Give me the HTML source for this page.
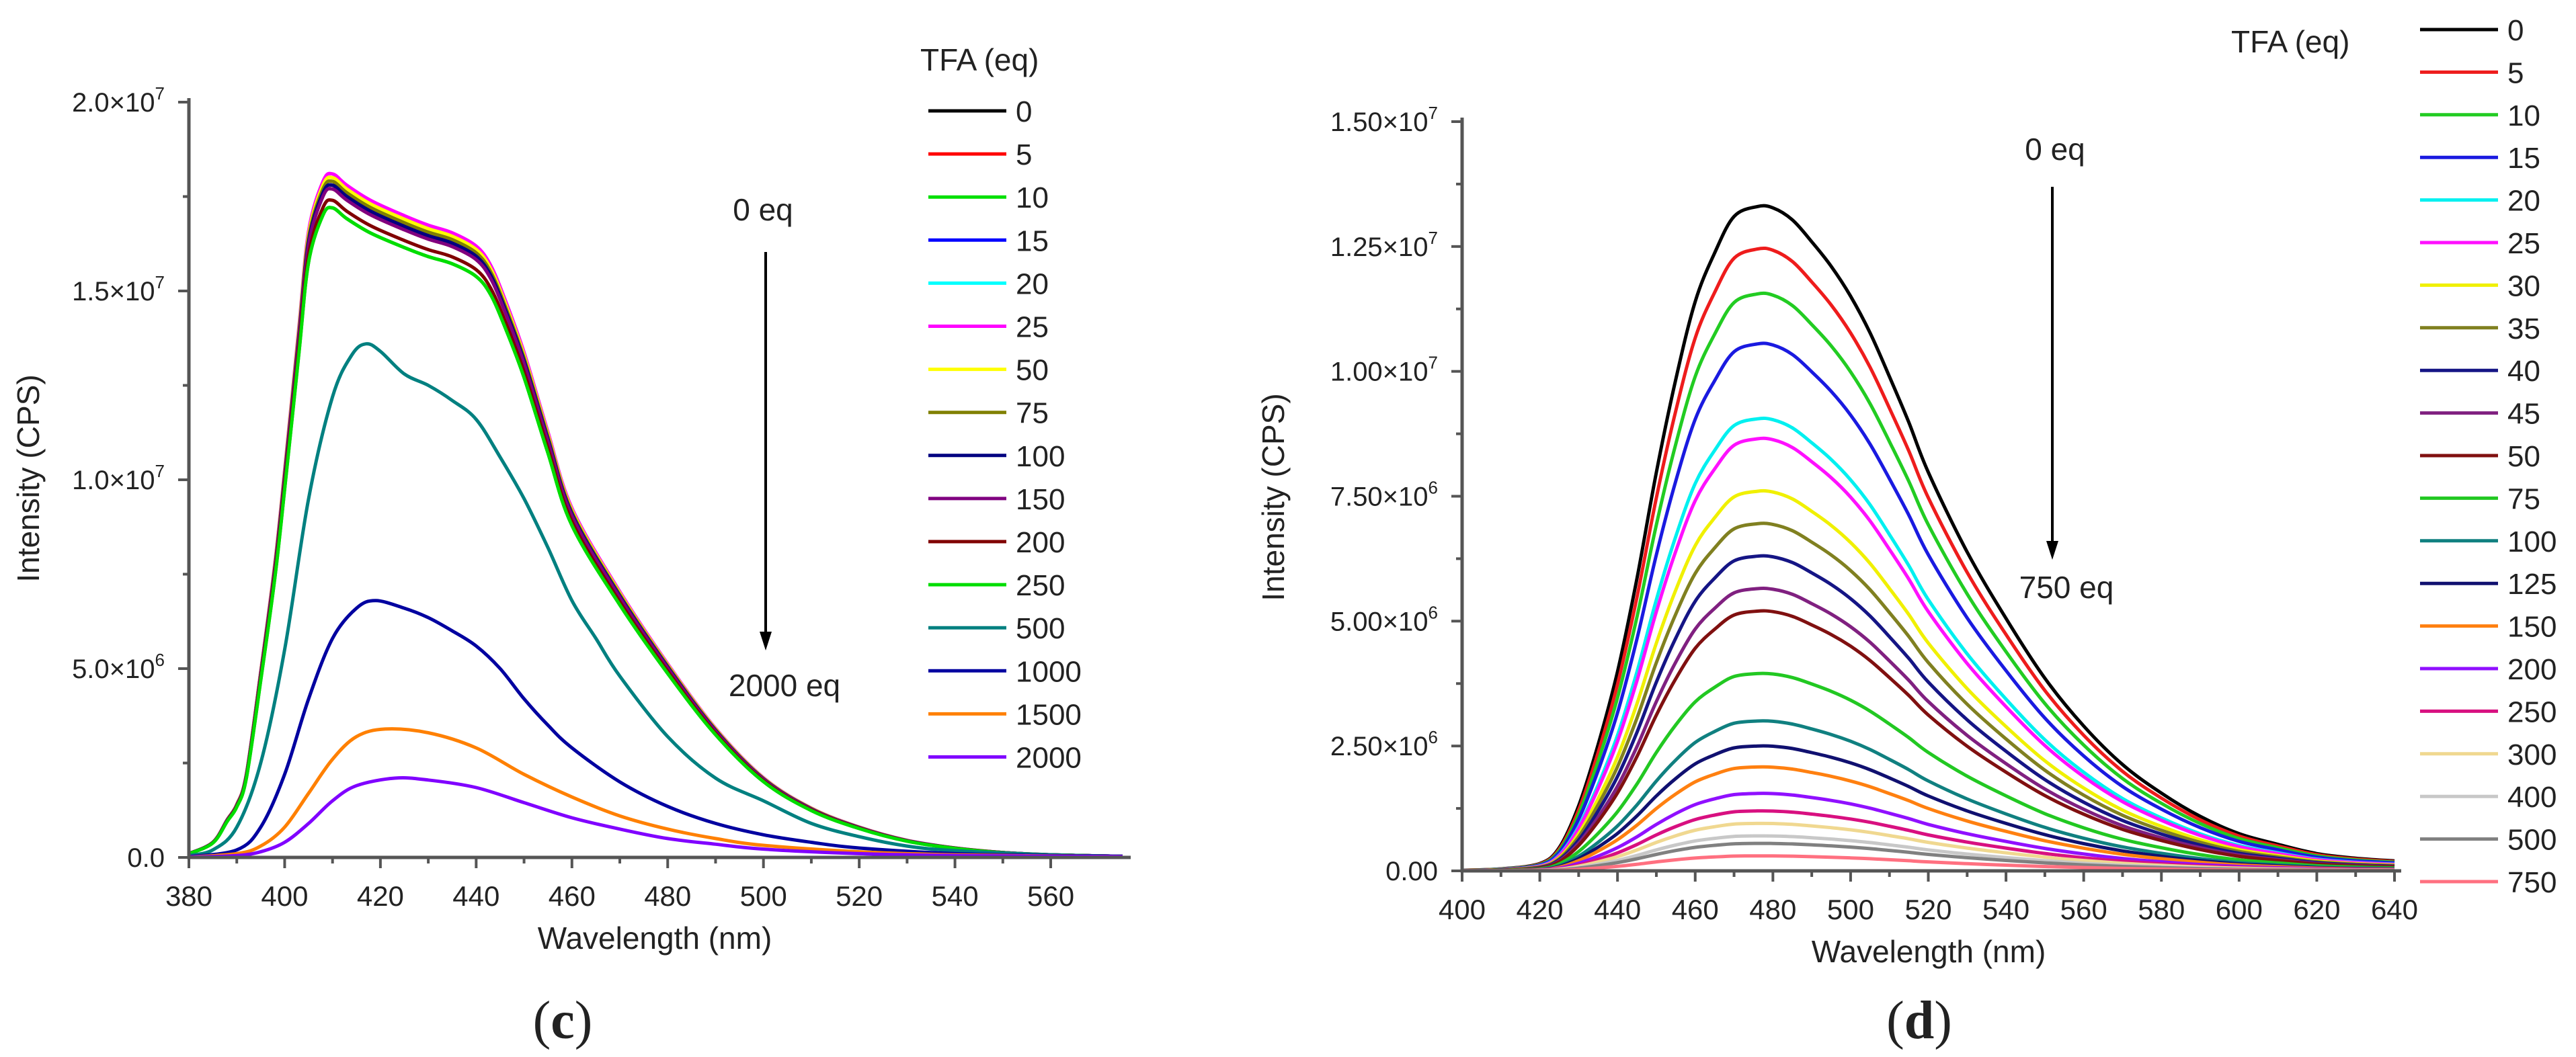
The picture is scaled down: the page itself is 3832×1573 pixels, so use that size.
<!DOCTYPE html>
<html><head><meta charset="utf-8">
<style>
html,body{margin:0;padding:0;background:#fff;}
svg{display:block;}
text{font-family:"Liberation Sans",Arial,sans-serif;fill:#222;}
</style></head>
<body>
<svg id="fig" xmlns="http://www.w3.org/2000/svg" width="3832" height="1573" viewBox="0 0 3832 1573">
<rect width="3832" height="1573" fill="#fff"/>
<g id="panelC"></g>
<g id="panelD"></g>
<text x="837" y="1545" font-size="80" text-anchor="middle" style="font-family:'Liberation Serif',serif">(<tspan font-weight="bold">c</tspan>)</text>
<text x="2855" y="1545" font-size="80" text-anchor="middle" style="font-family:'Liberation Serif',serif">(<tspan font-weight="bold">d</tspan>)</text>
</svg>
<script>
// ---------- Panel (c) data ----------
const cLabels = ["0","5","10","15","20","25","50","75","100","150","200","250","500","1000","1500","2000"];
const cColors = ["#000000","#ff0000","#00e000","#0000ff","#00ffff","#ff00ff","#ffff00","#808000","#000080","#800080","#800000","#00dd00","#008080","#0000a0","#ff8000","#8000ff"];
const cPeaks = [1.78,1.77,1.72,1.80,1.80,1.81,1.80,1.79,1.78,1.77,1.74,1.72];
const cHighX = [380,385,388,390,392,395,398,400,403,405,408,410,413,418,425,430,435,440,443,446,450,455,460,470,480,490,500,510,520,530,540,550,560,575];
const cHighY = [0.01,0.04,0.1,0.14,0.22,0.49,0.78,1.02,1.4,1.65,1.78,1.80,1.77,1.73,1.69,1.665,1.645,1.61,1.56,1.47,1.33,1.12,0.92,0.70,0.51,0.34,0.21,0.13,0.08,0.045,0.025,0.013,0.007,0.003];
const c500X = [380,385,390,395,400,405,410,414,417,420,425,430,435,440,445,450,455,460,465,470,480,490,500,510,520,530,540,560,575];
const c500Y = [0.005,0.02,0.08,0.25,0.55,0.95,1.22,1.33,1.36,1.34,1.28,1.25,1.21,1.16,1.06,0.95,0.82,0.68,0.58,0.48,0.32,0.21,0.15,0.09,0.055,0.03,0.018,0.007,0.003];
const c1000X = [380,390,395,400,405,410,415,419,425,430,435,440,445,450,455,460,470,480,490,500,510,520,540,560,575];
const c1000Y = [0.002,0.02,0.08,0.22,0.42,0.58,0.66,0.68,0.66,0.635,0.6,0.56,0.5,0.42,0.35,0.29,0.2,0.135,0.09,0.06,0.04,0.025,0.01,0.005,0.003];
const c1500X = [380,390,395,400,405,410,415,421,430,440,450,460,470,480,490,500,520,540,575];
const c1500Y = [0.001,0.01,0.03,0.08,0.17,0.26,0.32,0.34,0.33,0.29,0.22,0.16,0.11,0.075,0.05,0.032,0.015,0.007,0.002];
const c2000X = [380,390,395,400,405,410,415,423,430,440,450,460,470,480,490,500,520,540,575];
const c2000Y = [0.001,0.005,0.015,0.04,0.09,0.15,0.19,0.21,0.205,0.185,0.145,0.105,0.075,0.05,0.035,0.022,0.01,0.005,0.002];
const cXTicks = [380,400,420,440,460,480,500,520,540,560];
const cYTicks = [0,0.5,1.0,1.5,2.0];
const cYTickText = ["0.0","5.0×10","1.0×10","1.5×10","2.0×10"];
const cYTickExp = ["","6","7","7","7"];

// ---------- Panel (d) data ----------
const dLabels = ["0","5","10","15","20","25","30","35","40","45","50","75","100","125","150","200","250","300","400","500","750"];
const dColors = ["#000000","#ee1c1c","#22cc22","#1a1ae0","#00f0f0","#ff10ff","#f0f000","#808020","#151585","#802080","#801010","#22c822","#108080","#101070","#ff8010","#9010ff","#d81080","#f0d890","#c8c8c8","#808080","#ff7080"];
const dPeaks = [13.3,12.45,11.55,10.55,9.05,8.65,7.6,6.95,6.3,5.65,5.2,3.95,3.0,2.5,2.08,1.55,1.2,0.95,0.7,0.55,0.3];
const dShapeX = [400,410,420,425,430,435,440,445,450,455,460,465,470,476,480,485,490,495,500,505,510,515,520,530,540,550,560,570,580,590,600,610,620,630,640];
const dShapeY = [0.001,0.003,0.011,0.035,0.098,0.19,0.30,0.44,0.60,0.74,0.857,0.93,0.985,1,0.998,0.98,0.947,0.91,0.865,0.81,0.744,0.675,0.60,0.48,0.38,0.29,0.218,0.16,0.117,0.082,0.056,0.04,0.026,0.019,0.015];
const dXTicks = [400,420,440,460,480,500,520,540,560,580,600,620,640];
const dYTicks = [0,2.5,5,7.5,10,12.5,15];
const dYTickText = ["0.00","2.50×10","5.00×10","7.50×10","1.00×10","1.25×10","1.50×10"];
const dYTickExp = ["","6","6","6","7","7","7"];

const NS = "http://www.w3.org/2000/svg";
function mk(parent, tag, attrs){const e=document.createElementNS(NS,tag);for(const k in attrs)e.setAttribute(k,attrs[k]);parent.appendChild(e);return e;}

function smoothPath(p){
  let d=`M${p[0][0].toFixed(1)},${p[0][1].toFixed(1)}`;
  for(let i=0;i<p.length-1;i++){
    const p0=p[Math.max(0,i-1)],p1=p[i],p2=p[i+1],p3=p[Math.min(p.length-1,i+2)];
    const c1x=p1[0]+(p2[0]-p0[0])/6, c1y=p1[1]+(p2[1]-p0[1])/6;
    const c2x=p2[0]-(p3[0]-p1[0])/6, c2y=p2[1]-(p3[1]-p1[1])/6;
    d+=` C${c1x.toFixed(1)},${c1y.toFixed(1)} ${c2x.toFixed(1)},${c2y.toFixed(1)} ${p2[0].toFixed(1)},${p2[1].toFixed(1)}`;
  }
  return d;
}

function drawPanel(g, o){
  const sx = v => o.x0 + (v - o.xmin)/(o.xmax - o.xmin)*(o.x1 - o.x0);
  const sy = v => o.y0 - (v - o.ymin)/(o.ymax - o.ymin)*(o.y0 - o.y1);
  o.series.forEach((s,i)=>{
    const pts = s.xs.map((x,j)=>[sx(x),sy(s.ys[j])]);
    const pl = mk(g,"path",{d:smoothPath(pts),fill:"none",stroke:s.color,"stroke-width":5,"stroke-linejoin":"round"});
    
    
  });
  const ax = mk(g,"path",{d:`M${o.x0},${o.y1-6} V${o.y0} H${o.x1+10}`,fill:"none",stroke:"#555","stroke-width":5});
  
  
  o.xTicks.forEach((t,i)=>{
    const x=sx(t);
    mk(g,"line",{x1:x,y1:o.y0,x2:x,y2:o.y0+16,stroke:"#555","stroke-width":4});
    if(i<o.xTicks.length-1){const xm=sx(t+(o.xTicks[1]-o.xTicks[0])/2);mk(g,"line",{x1:xm,y1:o.y0,x2:xm,y2:o.y0+9,stroke:"#555","stroke-width":4});}
    const tx=mk(g,"text",{x:x,y:o.y0+72,"font-size":42,"text-anchor":"middle"});
    tx.textContent=t;
    
    
  });
  o.yTicks.forEach((t,i)=>{
    const y=sy(t);
    mk(g,"line",{x1:o.x0-16,y1:y,x2:o.x0,y2:y,stroke:"#555","stroke-width":4});
    if(i<o.yTicks.length-1){const ym=sy(t+(o.yTicks[1]-o.yTicks[0])/2);mk(g,"line",{x1:o.x0-9,y1:ym,x2:o.x0,y2:ym,stroke:"#555","stroke-width":4});}
    const tx=mk(g,"text",{x:o.x0-36,y:y+14,"font-size":40,"text-anchor":"end"});
    tx.textContent=o.yTickText[i];
    if(o.yTickExp[i]){const sp=mk(tx,"tspan",{dy:-18,"font-size":26});sp.textContent=o.yTickExp[i];}
    
    
  });
  const xt=mk(g,"text",{x:o.xTitleX,y:o.xTitleY,"font-size":46,"text-anchor":"middle"});
  xt.textContent="Wavelength (nm)";
  
  
  const yt=mk(g,"text",{x:0,y:0,"font-size":46,"text-anchor":"middle",transform:`translate(${o.yTitleX},${o.yTitleY}) rotate(-90)`});
  yt.textContent="Intensity (CPS)";
  
  
  const lt=mk(g,"text",{x:o.legTitleX,y:o.legTitleY,"font-size":46});
  lt.textContent="TFA (eq)";
  
  
  o.series.forEach((s,i)=>{
    const y=o.legY0+i*o.legStep;
    const lg=mk(g,"g",{});
    
    
    mk(lg,"line",{x1:o.legX0,y1:y,x2:o.legX1,y2:y,stroke:s.color,"stroke-width":5});
    const t=mk(lg,"text",{x:o.legX1+14,y:y+16,"font-size":44});
    t.textContent=s.label;
  });
  const ar=mk(g,"g",{});
  
  
  mk(ar,"line",{x1:o.arX,y1:o.arY0,x2:o.arX,y2:o.arY1-20,stroke:"#000","stroke-width":4});
  mk(ar,"path",{d:`M${o.arX-9},${o.arY1-28} L${o.arX+9},${o.arY1-28} L${o.arX},${o.arY1} Z`,fill:"#000"});
  const a0=mk(g,"text",{x:o.a0X,y:o.a0Y,"font-size":46,"text-anchor":"middle"});
  a0.textContent="0 eq";
  
  
  const a1=mk(g,"text",{x:o.a1X,y:o.a1Y,"font-size":46,"text-anchor":"middle"});
  a1.textContent=o.a1Text;
  
  
}

const cSeries = cLabels.map((lab,i)=>{
  let xs, ys;
  if(i<12){xs=cHighX; ys=cHighY.map(v=>v*cPeaks[i]/1.80);}
  else if(i===12){xs=c500X; ys=c500Y;}
  else if(i===13){xs=c1000X; ys=c1000Y;}
  else if(i===14){xs=c1500X; ys=c1500Y;}
  else {xs=c2000X; ys=c2000Y;}
  return {label:lab,color:cColors[i],xs:xs,ys:ys};
});
drawPanel(document.getElementById("panelC"),{
  x0:281,x1:1672,xmin:380,xmax:575.3,y0:1276,y1:152,ymin:0,ymax:2.0,
  series:cSeries,xTicks:cXTicks,yTicks:cYTicks,yTickText:cYTickText,yTickExp:cYTickExp,
  xTitleX:974,xTitleY:1412,yTitleX:58,yTitleY:712,
  legTitleX:1369,legTitleY:105,legX0:1381,legX1:1497,legY0:165,legStep:64.1,
  arX:1139,arY0:375,arY1:968,a0X:1135,a0Y:328,a1X:1167,a1Y:1036,a1Text:"2000 eq"
});

const dSeries = dLabels.map((lab,i)=>({label:lab,color:dColors[i],xs:dShapeX,ys:dShapeY.map(v=>v*dPeaks[i])}));
drawPanel(document.getElementById("panelD"),{
  x0:2175,x1:3562,xmin:400,xmax:640,y0:1296,y1:181,ymin:0,ymax:15,
  series:dSeries,xTicks:dXTicks,yTicks:dYTicks,yTickText:dYTickText,yTickExp:dYTickExp,
  xTitleX:2869,xTitleY:1432,yTitleX:1910,yTitleY:740,
  legTitleX:3319,legTitleY:78,legX0:3600,legX1:3716,legY0:44,legStep:63.4,
  arX:3053,arY0:278,arY1:833,a0X:3057,a0Y:238,a1X:3074,a1Y:890,a1Text:"750 eq"
});
</script>
</body></html>
